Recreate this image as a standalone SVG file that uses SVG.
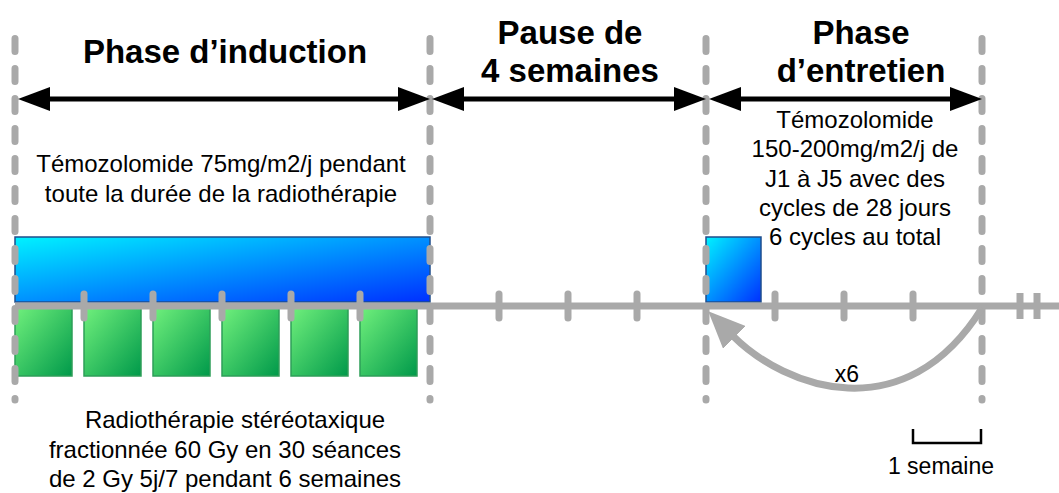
<svg xmlns="http://www.w3.org/2000/svg" width="1059" height="493" viewBox="0 0 1059 493">
<style>
text{font-family:"Liberation Sans",Arial,Helvetica,sans-serif;fill:#000}
.title{font-size:33px;font-weight:bold;text-anchor:middle}
.body{font-size:24px;text-anchor:middle}
.dash{stroke:#a9a9a9;stroke-width:7;stroke-dasharray:13 17;stroke-linecap:round;fill:none}
.axis{stroke:#a9a9a9;stroke-width:7;fill:none}
.tick{stroke:#a9a9a9;stroke-width:7;stroke-linecap:round}
.hash{stroke:#a9a9a9;stroke-width:7}
.span{stroke:#000;stroke-width:5;marker-start:url(#ah);marker-end:url(#ah)}
.blue{fill:url(#gBlue);stroke:#1f4e8c;stroke-width:1.5}
.green{fill:url(#gGreen);stroke:#2e9e58;stroke-width:1.5}
</style>
<defs>
<linearGradient id="gBlue" x1="0" y1="0" x2="1" y2="1">
<stop offset="0" stop-color="#00f2ff"/>
<stop offset="1" stop-color="#0030ff"/>
</linearGradient>
<linearGradient id="gGreen" x1="0" y1="0" x2="1" y2="1">
<stop offset="0" stop-color="#70f07c"/>
<stop offset="1" stop-color="#00994a"/>
</linearGradient>
<marker id="ah" viewBox="0 0 32 24" refX="12" refY="12" markerWidth="32" markerHeight="24" markerUnits="userSpaceOnUse" orient="auto-start-reverse">
<path d="M0,0 L32,12 L0,24 Z" fill="#000"/>
</marker>
<marker id="gh" viewBox="0 0 37 32" refX="2" refY="16" markerWidth="37" markerHeight="32" markerUnits="userSpaceOnUse" orient="auto">
<path d="M0,0 L37,16 L0,32 Z" fill="#a9a9a9"/>
</marker>
</defs>

<g id="radiotherapie-bars">
<rect class="green" x="15" y="308" width="57" height="68"/>
<rect class="green" x="84" y="308" width="57" height="68"/>
<rect class="green" x="153" y="308" width="57" height="68"/>
<rect class="green" x="222" y="308" width="57" height="68"/>
<rect class="green" x="291" y="308" width="57" height="68"/>
<rect class="green" x="360" y="308" width="57" height="68"/>
</g>
<g id="temozolomide-induction">
<rect class="blue" x="15" y="237" width="415" height="65"/>
</g>
<g id="temozolomide-entretien">
<rect class="blue" x="706" y="237" width="55" height="65"/>
</g>

<g id="timeline">
<line class="axis" x1="15" y1="306" x2="1059" y2="306"/>
<g>
<line class="tick" x1="84" y1="294" x2="84" y2="318"/>
<line class="tick" x1="153" y1="294" x2="153" y2="318"/>
<line class="tick" x1="222" y1="294" x2="222" y2="318"/>
<line class="tick" x1="291" y1="294" x2="291" y2="318"/>
<line class="tick" x1="360" y1="294" x2="360" y2="318"/>
<line class="tick" x1="499" y1="294" x2="499" y2="318"/>
<line class="tick" x1="568" y1="294" x2="568" y2="318"/>
<line class="tick" x1="637" y1="294" x2="637" y2="318"/>
<line class="tick" x1="775" y1="294" x2="775" y2="318"/>
<line class="tick" x1="844" y1="294" x2="844" y2="318"/>
<line class="tick" x1="913" y1="294" x2="913" y2="318"/>
</g>
<line class="hash" x1="1020" y1="293" x2="1020" y2="319"/>
<line class="hash" x1="1037" y1="293" x2="1037" y2="319"/>
</g>

<g id="phase-boundaries">
<line class="dash" x1="15" y1="38.5" x2="15" y2="400"/>
<line class="dash" x1="430" y1="38.5" x2="430" y2="400"/>
<line class="dash" x1="706" y1="38.5" x2="706" y2="400"/>
<line class="dash" x1="982" y1="38.5" x2="982" y2="400"/>
</g>

<g id="connectors">
<line class="span" x1="38" y1="99" x2="410" y2="99"/>
<line class="span" x1="452" y1="99" x2="686" y2="99"/>
<line class="span" x1="729" y1="99" x2="962" y2="99"/>
<path d="M982,308 C905,432 785,388 733,336" fill="none" stroke="#a9a9a9" stroke-width="7" marker-end="url(#gh)"/>
<path d="M913,429 V443 H981 V429" fill="none" stroke="#000" stroke-width="2.5"/>
</g>

<g id="label-induction">
<text class="title" x="225" y="63">Phase d’induction</text>
</g>
<g id="label-pause">
<text class="title" x="570" y="44">Pause de</text>
<text class="title" x="570" y="82">4 semaines</text>
</g>
<g id="label-entretien">
<text class="title" x="861" y="44">Phase</text>
<text class="title" x="861" y="82">d’entretien</text>
</g>
<g id="text-temo-induction">
<text class="body" x="221" y="172">Témozolomide 75mg/m2/j pendant</text>
<text class="body" x="221" y="202">toute la durée de la radiothérapie</text>
</g>
<g id="text-temo-entretien">
<text class="body" x="855" y="128">Témozolomide</text>
<text class="body" x="855" y="157">150-200mg/m2/j de</text>
<text class="body" x="855" y="187">J1 à J5 avec des</text>
<text class="body" x="855" y="216">cycles de 28 jours</text>
<text class="body" x="855" y="245">6 cycles au total</text>
</g>
<g id="text-radiotherapie">
<text class="body" x="235" y="428">Radiothérapie stéréotaxique</text>
<text class="body" x="225" y="458">fractionnée 60 Gy en 30 séances</text>
<text class="body" x="225" y="487">de 2 Gy 5j/7 pendant 6 semaines</text>
</g>
<g id="label-x6">
<text class="body" x="847" y="382" style="font-size:23px">x6</text>
</g>
<g id="label-scale">
<text class="body" x="941" y="474" style="font-size:23px">1 semaine</text>
</g>
</svg>
